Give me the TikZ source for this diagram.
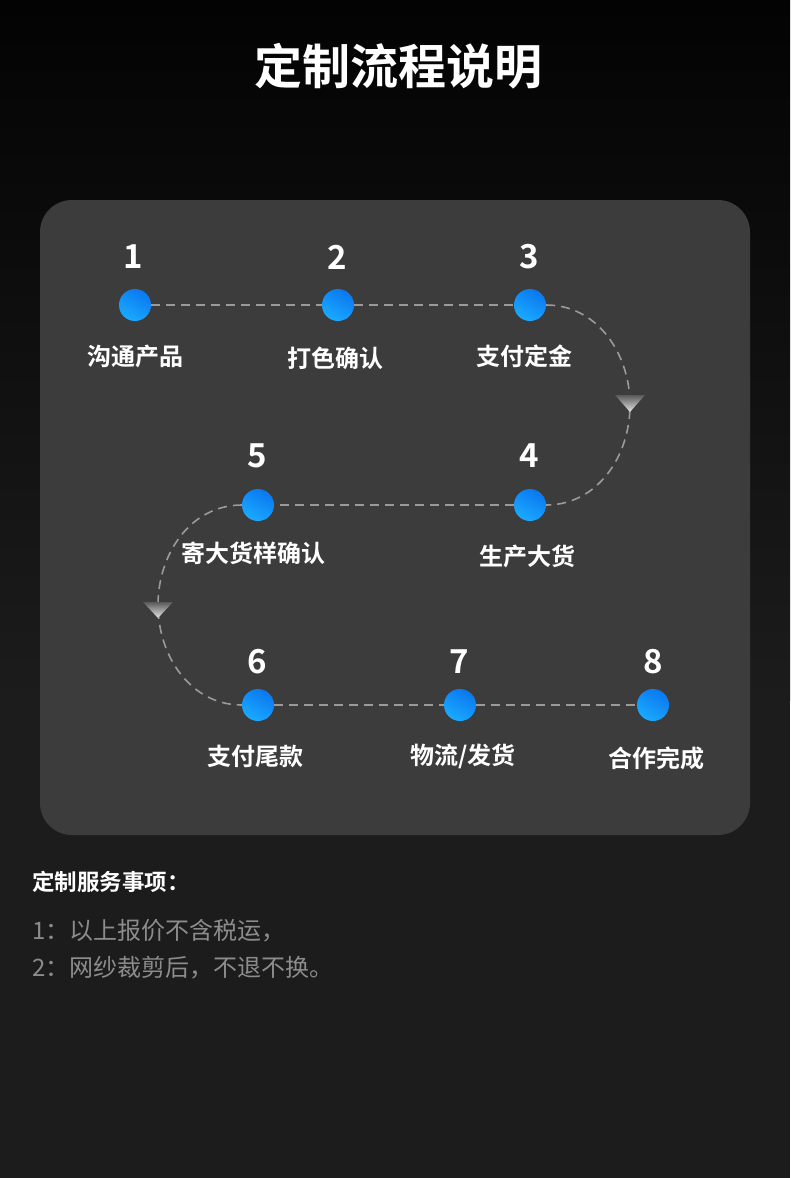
\documentclass[tikz,border=0pt]{standalone}
\usepackage{fontspec}
\setmainfont{Noto Sans CJK SC}[BoldFont={Noto Sans CJK SC Bold}]
\definecolor{panel}{HTML}{3C3C3C}
\definecolor{dashc}{HTML}{9A9A9A}
\definecolor{dotA}{HTML}{0A78F0}
\definecolor{dotB}{HTML}{1AAAFF}
\definecolor{desc}{HTML}{8C8C8C}
\definecolor{bgtop}{HTML}{030303}
\definecolor{bgbot}{HTML}{1C1C1C}
\tikzset{
  dotn/.style={circle,minimum size=32pt,inner sep=0pt,top color=dotA,bottom color=dotB,shading angle=-30},
  numn/.style={text=white,font=\fontsize{33}{37}\selectfont\bfseries,inner sep=0pt},
  labn/.style={text=white,font=\fontsize{24}{28}\selectfont\bfseries,inner sep=0pt},
  dashline/.style={draw=dashc,line width=1.6pt,dash pattern=on 9pt off 6pt},
  arrowtri/.style={top color=black!65!white,bottom color=white!90!black,draw=none},
}
\begin{document}
\begin{tikzpicture}[x=1pt,y=-1pt]
\useasboundingbox (0,0) rectangle (790,1178);
\fill[bgbot] (0,700) rectangle (790,1178);
\shade[top color=bgtop,bottom color=bgbot] (0,0) rectangle (790,700);
\node[text=white,font=\fontsize{48}{52}\selectfont\bfseries,inner sep=0pt] (title) at (398,66) {定制流程说明};
\fill[panel,rounded corners=32pt] (40,200) rectangle (750,835);
% dots
\node[dotn] (d1) at (135,305) {};
\node[dotn] (d2) at (338,305) {};
\node[dotn] (d3) at (530,305) {};
\node[dotn] (d4) at (530,505) {};
\node[dotn] (d5) at (258,505) {};
\node[dotn] (d6) at (258,705) {};
\node[dotn] (d7) at (460,705) {};
\node[dotn] (d8) at (653,705) {};
% numbers
\node[numn] (n1) at (133,257) {1};
\node[numn] (n2) at (337,257) {2};
\node[numn] (n3) at (529,257) {3};
\node[numn] (n4) at (529,456) {4};
\node[numn] (n5) at (257,456) {5};
\node[numn] (n6) at (257,662) {6};
\node[numn] (n7) at (459,662) {7};
\node[numn] (n8) at (653,662) {8};
% labels
\node[labn] (l1) at (135,356) {沟通产品};
\node[labn] (l2) at (335,358) {打色确认};
\node[labn] (l3) at (524,356) {支付定金};
\node[labn] (l4) at (527,556) {生产大货};
\node[labn] (l5) at (253,553) {寄大货样确认};
\node[labn] (l6) at (255,756) {支付尾款};
\node[labn] (l7) at (463,756) {物流/发货};
\node[labn] (l8) at (656,758) {合作完成};
% connectors
\coordinate (a1) at (630,405);
\coordinate (a2) at (158,605);
\draw[dashline] (d1) -- (d2);
\draw[dashline] (d2) -- (d3);
\draw[dashline] (d3.east) to[out=0,in=90] (a1) to[out=-90,in=0] (d4.east);
\draw[dashline] (d4) -- (d5);
\draw[dashline] (d5.west) to[out=180,in=90] (a2) to[out=-90,in=180] (d6.west);
\draw[dashline] (d6) -- (d7);
\draw[dashline] (d7) -- (d8);
\shade[arrowtri] ([shift={(-15,-10)}]a1) -- ([shift={(15,-10)}]a1) -- ([shift={(0,7)}]a1) -- cycle;
\shade[arrowtri] ([shift={(-15,-3)}]a2) -- ([shift={(15,-3)}]a2) -- ([shift={(0,13)}]a2) -- cycle;
% notes
\node[text=white,font=\fontsize{22.5}{26}\selectfont\bfseries,anchor=west,inner sep=0pt] (h) at (32,882) {定制服务事项：};
\node[text=desc,font=\fontsize{24}{28}\selectfont,anchor=west,inner sep=0pt] (t1) at (32,931) {1：以上报价不含税运，};
\node[text=desc,font=\fontsize{24}{28}\selectfont,anchor=west,inner sep=0pt] (t2) at (32,968) {2：网纱裁剪后，不退不换。};
\end{tikzpicture}
\end{document}
